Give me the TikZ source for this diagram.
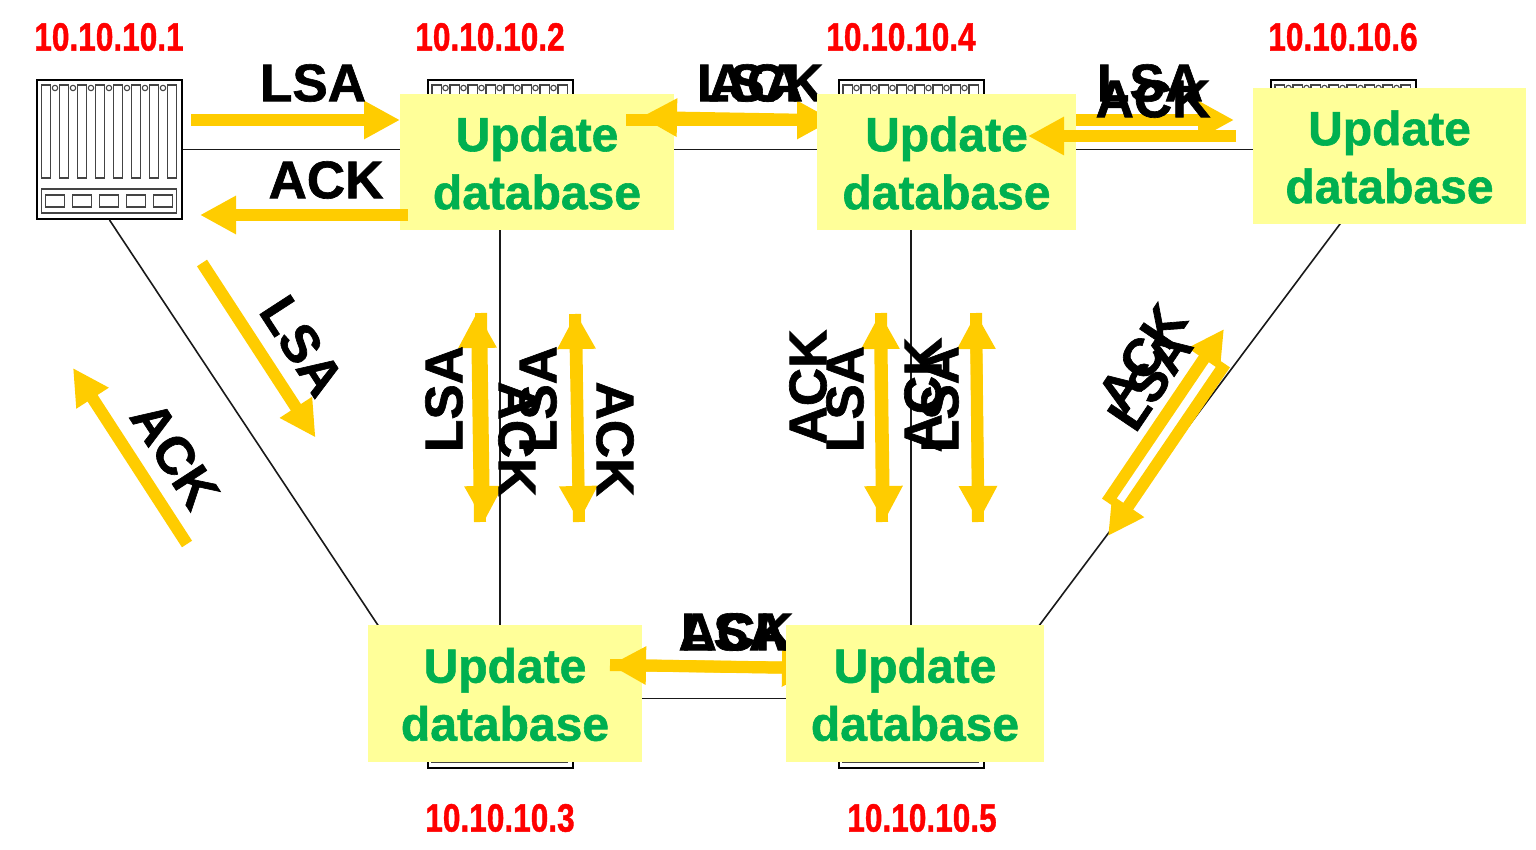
\documentclass[tikz,border=0pt]{standalone}
\usepackage{fontspec}
\setmainfont[BoldFeatures={FakeBold=1.2}]{Liberation Sans}
\usetikzlibrary{arrows.meta}
\definecolor{flowc}{HTML}{FFCC00}
\definecolor{boxc}{HTML}{FFFF99}
\definecolor{updc}{HTML}{00B050}
\definecolor{slotc}{HTML}{444444}
\tikzset{
  x=1pt,y=-1pt,
  link/.style={draw=black!90,line width=1.6pt},
  flow/.style={draw=flowc,line width=12pt,-{Triangle[width=36pt,length=36pt]}},
  msg/.style={inner sep=0pt,font=\bfseries\fontsize{53}{58}\selectfont,text=black},
  addr/.style={inner sep=0pt,text=red,font=\bfseries\fontsize{39.5}{44}\selectfont,xscale=0.8},
  upd/.style={fill=boxc,inner sep=0pt},
  updtext/.style={inner sep=0pt,align=center,text=updc,font=\bfseries\fontsize{48}{58}\selectfont},
  router/.style={draw=black,fill=white,line width=2pt,minimum width=145pt,minimum height=139pt,inner sep=0pt,
    path picture={
      \begin{scope}[shift={(path picture bounding box.center)},draw=slotc,line width=1.1pt]
        \foreach \i in {0,...,7}{
          \draw ({-68+18*\i},-64.5) rectangle ({-58.8+18*\i},28.5);}
        \foreach \i in {0,...,6}{
          \draw ({-54.5+18*\i},-61.5) circle (2.7);}
        \draw (-68,39.5) rectangle (67,63.5);
        \foreach \i in {0,...,4}{
          \draw ({-63.8+27*\i},45.5) rectangle ({-45.2+27*\i},57.5);}
      \end{scope}}},
}
\newcommand{\flowarrow}[3]{%
  \coordinate (#1s) at (#2);
  \coordinate (#1e) at (#3);
  \draw[flow] (#1s) -- (#1e);}
\begin{document}
\begin{tikzpicture}
\useasboundingbox (0,0) rectangle (1536,850);
% routers
\node[router] (r1) at (109.5,149.5) {};
\node[router] (r2) at (500,149.5) {};
\node[router] (r4) at (911,149.5) {};
\node[router] (r6) at (1343,149.5) {};
\node[router] (r3) at (500,698.5) {};
\node[router] (r5) at (911,698.5) {};
% links
\draw[link] (r1.east) -- (r2.west);
\draw[link] (r2.east) -- (r4.west);
\draw[link] (r4.east) -- (r6.west);
\draw[link] (r2.south) -- (r3.north);
\draw[link] (r4.south) -- (r5.north);
\draw[link] (r3.east) -- (r5.west);
\draw[link] (r1.south) -- (r3.west);
\draw[link] (r6.south) -- (r5.east);
% update boxes (lower layer)
\node[upd,minimum width=274pt,minimum height=136pt] (u2) at (537,162) {};
\node[updtext] (t2) at (537,163) {Update\\database};
\node[upd,minimum width=274pt,minimum height=137pt] (u3) at (505,693.5) {};
\node[updtext] (t3) at (505,694.5) {Update\\database};
\node[upd,minimum width=273pt,minimum height=136pt] (u6) at (1389.5,156) {};
\node[updtext] (t6) at (1389.5,157) {Update\\database};
% flows
\flowarrow{fa}{191,120}{400,120}
\flowarrow{fb}{408,215}{200,215}
\flowarrow{fc}{626,120}{833,120}
\flowarrow{fd}{818,120}{641,117}
\flowarrow{fe}{1070,120}{1234,120}
\flowarrow{ff}{610,665}{818,668}
\flowarrow{fg}{800,668}{610,665}
% top and bottom labels under the later boxes
\node[msg] (la) at (313,83) {LSA};
\node[msg] (lb) at (326,180) {ACK};
\node[msg] (lc) at (750,83) {LSA};
\node[msg] (ld) at (766,83) {ACK};
\node[msg] (le) at (734,632) {LSA};
\node[msg] (lf) at (736,632) {ACK};
% update boxes (upper layer)
\node[upd,minimum width=259pt,minimum height=136pt] (u4) at (946.5,162) {};
\node[updtext] (t4) at (946.5,163) {Update\\database};
\node[upd,minimum width=258pt,minimum height=137pt] (u5) at (915,693.5) {};
\node[updtext] (t5) at (915,694.5) {Update\\database};
\flowarrow{fh}{1236,136}{1028,136}
% diagonal flows
\flowarrow{fi}{202,263}{315.5,437.5}
\flowarrow{fj}{187,544}{73,368}
\flowarrow{fk}{1107,502}{1224,329}
\flowarrow{fl}{1225,364}{1108,536}
% vertical flows
\flowarrow{fm}{481,313}{484,522}
\flowarrow{fn}{480,522}{477,312}
\flowarrow{fo}{575,314}{579,522}
\flowarrow{fp}{579,522}{576,313}
\flowarrow{fq}{881,313}{884,522}
\flowarrow{fr}{882,522}{880,313}
\flowarrow{fs}{976,313}{978.5,522}
\flowarrow{ft}{978,522}{976,313}
% remaining labels
\node[msg] (lg) at (1150,83) {LSA};
\node[msg] (lh) at (1153,99) {ACK};
\node[msg,rotate=-57] (li) at (302,346) {LSA};
\node[msg,rotate=-57] (lj) at (175,455) {ACK};
\node[msg,rotate=90] (lk) at (444,399) {LSA};
\node[msg,rotate=-90] (ll) at (517,439) {ACK};
\node[msg,rotate=90] (lm) at (538,399) {LSA};
\node[msg,rotate=-90] (ln) at (615,439) {ACK};
\node[msg,rotate=90] (lo) at (808,387) {ACK};
\node[msg,rotate=90] (lp) at (845,399) {LSA};
\node[msg,rotate=90] (lq) at (923,395) {ACK};
\node[msg,rotate=90] (lr) at (940,399) {LSA};
\node[msg,rotate=56] (ls) at (1142,358) {ACK};
\node[msg,rotate=56] (lt) at (1150,380) {LSA};
% addresses
\node[addr] (n1) at (109,37) {10.10.10.1};
\node[addr] (n2) at (490,37) {10.10.10.2};
\node[addr] (n4) at (901,37) {10.10.10.4};
\node[addr] (n6) at (1343,37) {10.10.10.6};
\node[addr] (n3) at (500,818) {10.10.10.3};
\node[addr] (n5) at (922,818) {10.10.10.5};
\end{tikzpicture}
\end{document}
